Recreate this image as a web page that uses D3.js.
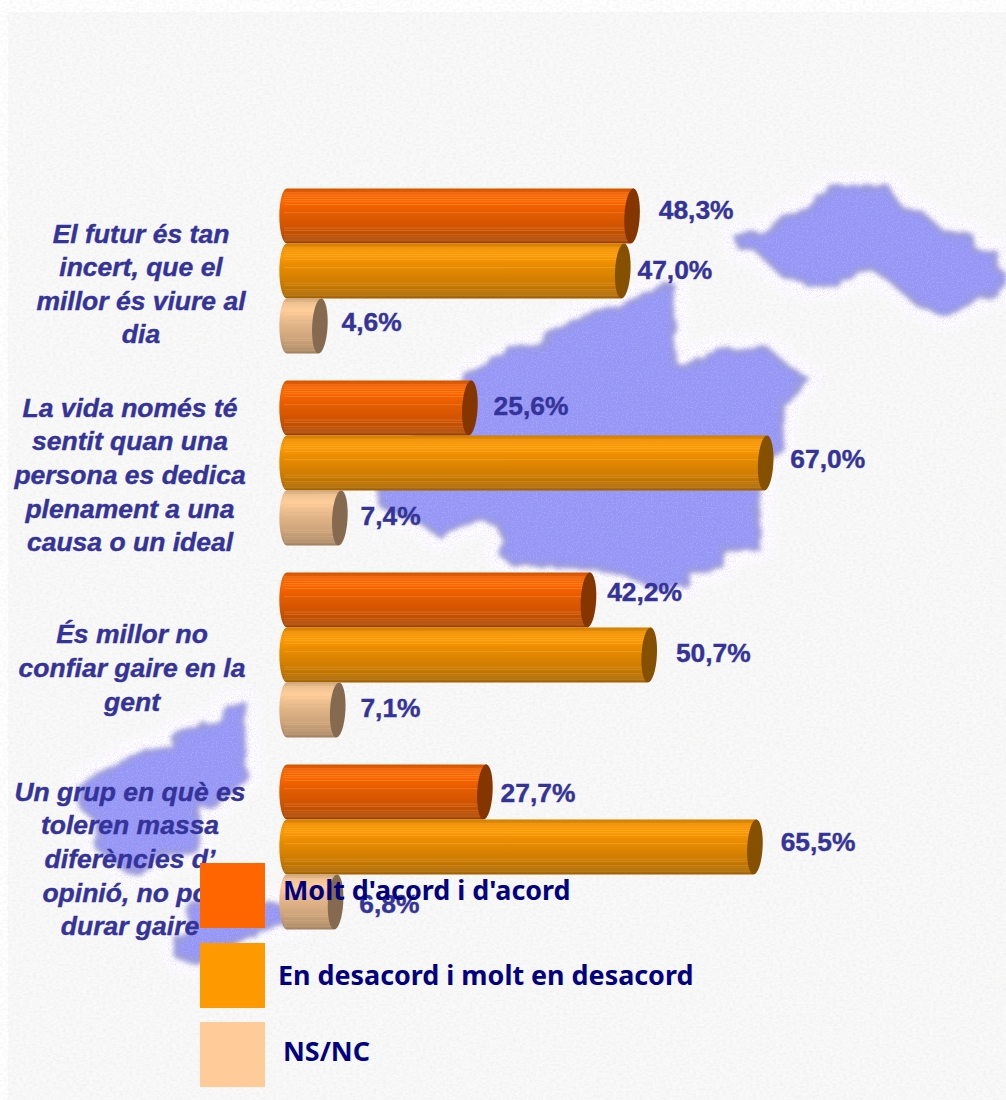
<!DOCTYPE html>
<html><head><meta charset="utf-8">
<script src="https://cdn.jsdelivr.net/npm/d3@7"></script>
<style>html,body{margin:0;padding:0;background:#fff}svg{display:block}</style>
</head><body><div id="c"></div>
<script>
// ---- data ----
const categories = ["futur","vida","confiar","grup"];
const categoryLines = [
  ["El futur és tan","incert, que el","millor és viure al","dia"],
  ["La vida només té","sentit quan una","persona es dedica","plenament a una","causa o un ideal"],
  ["És millor no","confiar gaire en la","gent"],
  ["Un grup en què es","toleren massa","diferències d’","opinió, no pot","durar gaire"]
];
const seriesNames = ["Molt d'acord i d'acord","En desacord i molt en desacord","NS/NC"];
const acord    = [48.3,25.6,42.2,27.7];
const desacord = [47.0,67.0,50.7,65.5];
const nsnc     = [4.6,7.4,7.1,6.8];
const seriesValues = [acord,desacord,nsnc];
const seriesColors = ["#FF6600","#FF9900","#FFCC99"];

// ---- layout tweaks (reference labels are hand placed) ----
const labelDx = [[19,16,11,8],[7,17,19,18],[14,13,15,16]];
const labelDy = [[-6,-2,-8,1],[-1,-4,-2,-5],[-4,-2,-2,2]];
const categoryCx = [141,130,132,130];
const categoryCy = [284,475,668,859];
const stripeFractions = [.08,.12,.16,.2,.24,.29,.44,.72,.76,.84,.88,.92,.95];

// decorative map fragments behind the chart
const mapShapes = [
 [[737,238],[770,232],[788,215],[807,212],[830,188],[887,187],[900,208],[923,215],[943,233],[970,235],[975,252],[995,253],[997,270],[1006,275],[997,293],[970,300],[945,315],[917,303],[893,282],[873,268],[857,270],[850,277],[827,285],[807,285],[803,278],[783,275],[757,250],[740,247]],
 [[672,285],[673,363],[687,368],[717,350],[767,350],[787,367],[807,380],[790,393],[780,420],[782,447],[758,467],[758,547],[723,550],[720,565],[687,573],[685,585],[657,587],[623,573],[590,567],[513,563],[500,553],[507,543],[497,523],[477,518],[460,523],[443,537],[423,523],[383,507],[380,490],[440,400],[468,375],[513,350],[540,347],[557,330],[593,313],[623,308],[647,293]],
 [[243,703],[245,777],[217,803],[197,807],[197,850],[160,853],[140,873],[127,870],[97,847],[97,820],[82,807],[80,787],[103,773],[140,753],[173,747],[178,733],[220,723],[227,707]],
 [[190,903],[265,903],[280,907],[300,912],[300,920],[280,923],[257,930],[200,960],[178,957],[177,940],[190,933]]
];

// ---- chart ----
const W=1006,H=1100;
const svg=d3.select("#c").append("svg").attr("width",W).attr("height",H);
const defs=svg.append("defs");

const x=d3.scaleLinear().domain([0,100]).range([287,1001.4]);
const y0=d3.scaleBand().domain(categories).range([188.5,929.5]).paddingInner(27/192);
const y1=d3.scaleBand().domain(d3.range(3)).range([0,y0.bandwidth()]);
const fmt=d3.formatLocale({decimal:",",thousands:".",grouping:[3],currency:["","€"]}).format(".1f");

// background filters
const full=(f)=>f.attr("filterUnits","userSpaceOnUse").attr("x",0).attr("y",0).attr("width",W).attr("height",H);
const fn=full(defs.append("filter").attr("id","paper"));
fn.append("feTurbulence").attr("type","fractalNoise").attr("baseFrequency","0.3 0.45").attr("numOctaves",2).attr("seed",4);
fn.append("feColorMatrix").attr("values","0 0 0 0 .72  0 0 0 0 .72  0 0 0 0 .7  .55 0 0 0 -.2");
const sp=full(defs.append("filter").attr("id","speck"));
sp.append("feTurbulence").attr("type","fractalNoise").attr("baseFrequency",.8).attr("numOctaves",1).attr("seed",9);
sp.append("feColorMatrix").attr("values","0 0 0 0 .36  0 0 0 0 .36  0 0 0 0 .95  8 0 0 0 -4.1");
const sp2=full(defs.append("filter").attr("id","speckHalo"));
sp2.append("feTurbulence").attr("type","fractalNoise").attr("baseFrequency",.85).attr("numOctaves",1).attr("seed",21);
sp2.append("feColorMatrix").attr("values","0 0 0 0 .85  0 0 0 0 .72  0 0 0 0 1  8 0 0 0 -4.1");
const bl=full(defs.append("filter").attr("id","blur"));
bl.append("feTurbulence").attr("type","fractalNoise").attr("baseFrequency",.07).attr("numOctaves",2).attr("seed",3).attr("result","n");
bl.append("feDisplacementMap").attr("in","SourceGraphic").attr("in2","n").attr("scale",9).attr("result","d");
bl.append("feGaussianBlur").attr("in","d").attr("stdDeviation",2.4);
const bh=full(defs.append("filter").attr("id","halo"));
bh.append("feGaussianBlur").attr("stdDeviation",6);

svg.append("rect").attr("x",8).attr("y",12).attr("width",W-8).attr("height",H-12).attr("fill","#f9f9f9");
svg.append("rect").attr("x",8).attr("y",12).attr("width",W-8).attr("height",H-12).attr("filter","url(#paper)");

const line=d3.line().curve(d3.curveLinearClosed);
const g=svg.append("g");
g.append("g").attr("filter","url(#halo)").selectAll("path").data(mapShapes).join("path")
  .attr("d",line).attr("fill","#fff").attr("stroke","#fff").attr("stroke-width",28).attr("stroke-linejoin","round");
const haloMask=defs.append("mask").attr("id","haloMask").attr("maskUnits","userSpaceOnUse").attr("x",0).attr("y",0).attr("width",W).attr("height",H);
haloMask.append("g").attr("filter","url(#halo)").selectAll("path").data(mapShapes).join("path")
  .attr("d",line).attr("fill","#fff").attr("stroke","#fff").attr("stroke-width",28);
g.append("rect").attr("width",W).attr("height",H).attr("filter","url(#speckHalo)").attr("mask","url(#haloMask)").attr("opacity",.8);
const mask=defs.append("mask").attr("id","mapMask").attr("maskUnits","userSpaceOnUse").attr("x",0).attr("y",0).attr("width",W).attr("height",H);
mask.append("g").attr("filter","url(#blur)").selectAll("path").data(mapShapes).join("path").attr("d",line).attr("fill","#fff");
g.append("g").attr("filter","url(#blur)").selectAll("path").data(mapShapes).join("path")
  .attr("d",line).attr("fill","#9696f4").attr("stroke","#9a9ad4").attr("stroke-width",5).attr("stroke-linejoin","round");
g.append("rect").attr("width",W).attr("height",H).attr("filter","url(#speck)").attr("mask","url(#mapMask)");

// bar gradients
seriesColors.forEach((c,i)=>{
  const b=d3.rgb(c), k=f=>d3.rgb(b.r*f,b.g*f,b.b*f).formatHex();
  const gr=defs.append("linearGradient").attr("id","cyl"+i).attr("x1",0).attr("x2",0).attr("y1",0).attr("y2",1);
  [[0,.82],[.1,.95],[.22,1],[.42,.9],[.6,.85],[.82,.76],[.97,.66],[1,.62]].forEach(s=>
    gr.append("stop").attr("offset",s[0]).attr("stop-color",k(s[1])));
});

const capColor=i=>{const b=d3.rgb(seriesColors[i]);return d3.rgb(b.r*.52,b.g*.52,b.b*.52).formatHex();};
const rx=7.7, skew=2;

// bars
const barData=[];
seriesValues.forEach((vals,s)=>vals.forEach((v,c)=>barData.push({s,c,v})));
const bars=svg.append("g").selectAll("g").data(barData).join("g")
  .attr("transform",d=>`translate(0,${y0(categories[d.c])+y1(d.s)})`);
const h=y1.bandwidth();
const bodyPath=d=>{
  const xe=x(d.v), xs=x(0);
  return `M${xs},0L${xe+skew},0L${xe-skew},${h}L${xs},${h}A${rx},${h/2} 0 0 1 ${xs},0Z`;
};
bars.append("path").attr("d",bodyPath).attr("fill",d=>`url(#cyl${d.s})`);
bars.each(function(d){
  d3.select(this).selectAll("line").data(stripeFractions).join("line")
    .attr("x1",x(0)-3).attr("x2",x(d.v)-2)
    .attr("y1",f=>f*h).attr("y2",f=>f*h)
    .attr("stroke","#ffe0b0").attr("stroke-opacity",.26).attr("stroke-width",.8);
});
bars.append("ellipse")
  .attr("cx",0).attr("cy",0).attr("rx",rx).attr("ry",h/2)
  .attr("transform",d=>`translate(${x(d.v)},${h/2}) rotate(3)`)
  .attr("fill",d=>capColor(d.s));

// value labels
svg.append("g").selectAll("text").data(barData).join("text")
  .attr("x",d=>x(d.v)+rx+labelDx[d.s][d.c])
  .attr("y",d=>y0(categories[d.c])+y1(d.s)+h/2+labelDy[d.s][d.c])
  .attr("dy","0.35em")
  .attr("font-family","'Liberation Sans',Arial,sans-serif").attr("font-weight","bold").attr("font-size",26.4)
  .attr("fill","#333399").attr("stroke","#333399").attr("stroke-width",.4)
  .text(d=>fmt(d.v)+"%");

// category labels
const lh=33.6;
const cat=svg.append("g").selectAll("text").data(categoryLines).join("text")
  .attr("font-family","'Liberation Sans',Arial,sans-serif").attr("font-weight","bold").attr("font-style","italic")
  .attr("font-size",26.5).attr("fill","#333399").attr("stroke","#333399").attr("stroke-width",.4).attr("text-anchor","middle");
cat.selectAll("tspan").data((d,i)=>d.map((t,j)=>({t,j,n:d.length,i}))).join("tspan")
  .attr("x",d=>categoryCx[d.i])
  .attr("y",d=>categoryCy[d.i]+(d.j-(d.n-1)/2)*lh+9)
  .text(d=>d.t);

// legend
const legendY=[863,943,1022], legendTextX=[283,278,283], legendTextY=[891,976,1052];
const lg=svg.append("g").selectAll("g").data(seriesNames).join("g");
lg.append("rect").attr("x",200).attr("y",(d,i)=>legendY[i]).attr("width",65).attr("height",65)
  .attr("fill",(d,i)=>seriesColors[i]);
lg.append("text").attr("x",(d,i)=>legendTextX[i]).attr("y",(d,i)=>legendTextY[i]).attr("dy","0.35em")
  .attr("font-family","'Noto Sans',Tahoma,sans-serif").attr("font-weight","bold").attr("font-size",26.9)
  .attr("fill","#000080").text(d=>d);
</script></body></html>
